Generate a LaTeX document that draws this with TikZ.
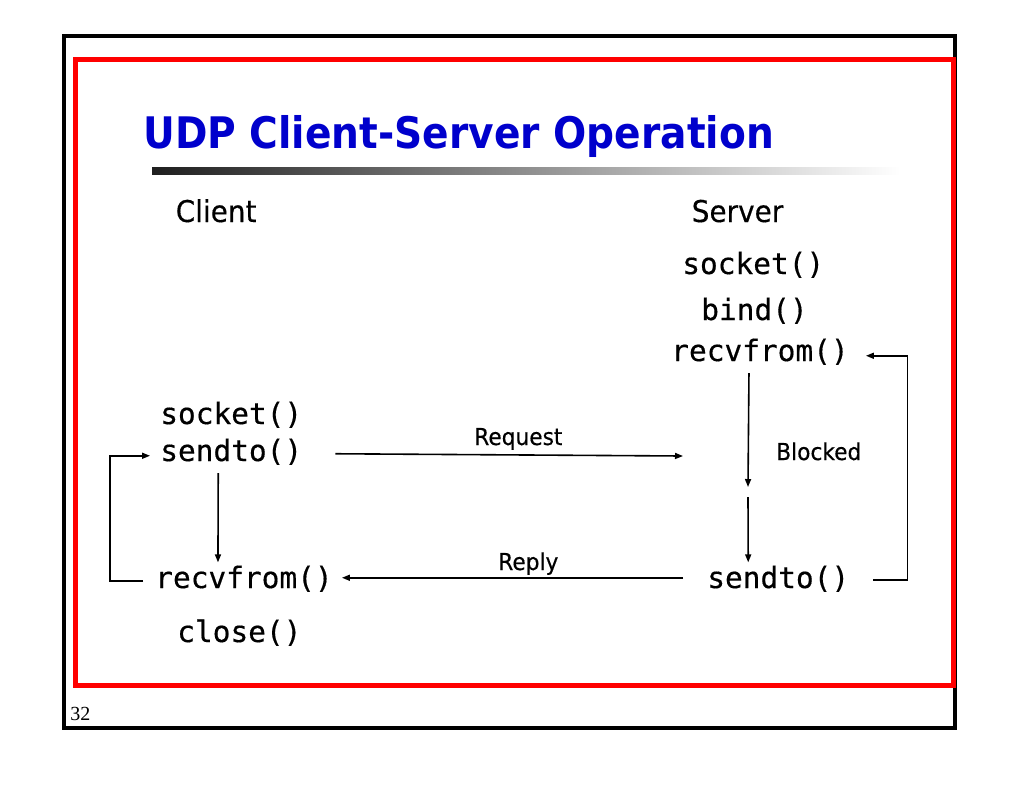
\documentclass[tikz,border=0pt]{standalone}
\usepackage{fontspec}
\usepackage{graphicx}
\usetikzlibrary{arrows.meta,calc}
\newfontfamily\titlefont{DejaVu Sans}
\newfontfamily\tahomafont[FakeBold=0.35]{DejaVu Sans}
\newfontfamily\monofont[FakeBold=0.45]{DejaVu Sans Mono}
\newfontfamily\serifnumfont{Liberation Serif}
\definecolor{titleblue}{RGB}{0,0,204}
\newcommand{\sq}[1]{\scalebox{0.93}[1]{#1}}
\begin{document}
\begin{tikzpicture}[x=0.75pt,y=-0.75pt,
  codetext/.style={anchor=base west, inner sep=0pt, font=\monofont\fontsize{22.1pt}{24pt}\selectfont},
  headtext/.style={anchor=base west, inner sep=0pt, font=\tahomafont\fontsize{22.5pt}{26pt}\selectfont},
  labeltext/.style={anchor=base west, inner sep=0pt, font=\tahomafont\fontsize{17.5pt}{20pt}\selectfont},
  conn/.style={line width=1.2pt, -{Triangle[length=6pt,width=4.5pt]}},
  plainline/.style={line width=1.2pt}]
\useasboundingbox (0,0) rectangle (1024,794);
% frames
\draw[line width=3pt, black] (63.5,36) rectangle (954.5,728);
\draw[line width=3.75pt, red] (75.5,59.5) rectangle (953,685.5);
% title
\node[anchor=base west, inner sep=0pt, text=titleblue,
  font=\titlefont\bfseries\fontsize{32.6pt}{36pt}\selectfont] (title) at (143,148)
  {\scalebox{0.9}[1]{UDP Client-Server Operation}};
\shade[left color=black!88, right color=white] (152,167) rectangle (900,174);
% headings
\node[headtext] (client) at (175.5,222) {\sq{Client}};
\node[headtext] (server) at (691.5,222) {\sq{Server}};
% client calls
\node[codetext] (csock) at (160,424) {socket()};
\node[codetext] (csend) at (160,461) {sendto()};
\node[codetext] (crecv) at (155,588) {recvfrom()};
\node[codetext] (cclose) at (177,642) {close()};
% server calls
\node[codetext] (ssock) at (682,274) {socket()};
\node[codetext] (sbind) at (701,320) {bind()};
\node[codetext] (srecv) at (671,361) {recvfrom()};
\node[codetext] (ssend) at (707,588) {sendto()};
% labels
\node[labeltext] (req) at (474,445) {\sq{Request}};
\node[labeltext] (rep) at (498,570) {\sq{Reply}};
\node[labeltext] (blk) at (776,460) {\sq{Blocked}};
% free ends
\coordinate (reqend) at (683,456);
\coordinate (blkA) at (748,487);
\coordinate (blkB) at (748,497);
% connectors
\draw[conn] ($(csend.east)+(33,2)$) -- (reqend);
\draw[conn] ($(ssend.west)+(-24,-1)$) -- ($(crecv.east)+(9,-1)$);
\draw[conn] ($(csend.south)+(-13,8)$) -- ($(crecv.north)+(-26,-3)$);
\draw[conn] ($(crecv.west)+(-12,2)$) -- ++(-33,0) |- ($(csend.west)+(-10,4)$);
\draw[conn] ($(srecv.south)+(-11,8)$) -- (blkA);
\draw[conn] (blkB) -- ($(ssend.north)+(-30,-3)$);
\draw[conn] ($(ssend.east)+(24,1)$) -- ++(34,0) |- ($(srecv.east)+(17,4)$);
% page number
\node[anchor=base west, inner sep=0pt, font=\serifnumfont\fontsize{15pt}{17pt}\selectfont] (pagenum) at (70,720) {32};
\end{tikzpicture}
\end{document}
